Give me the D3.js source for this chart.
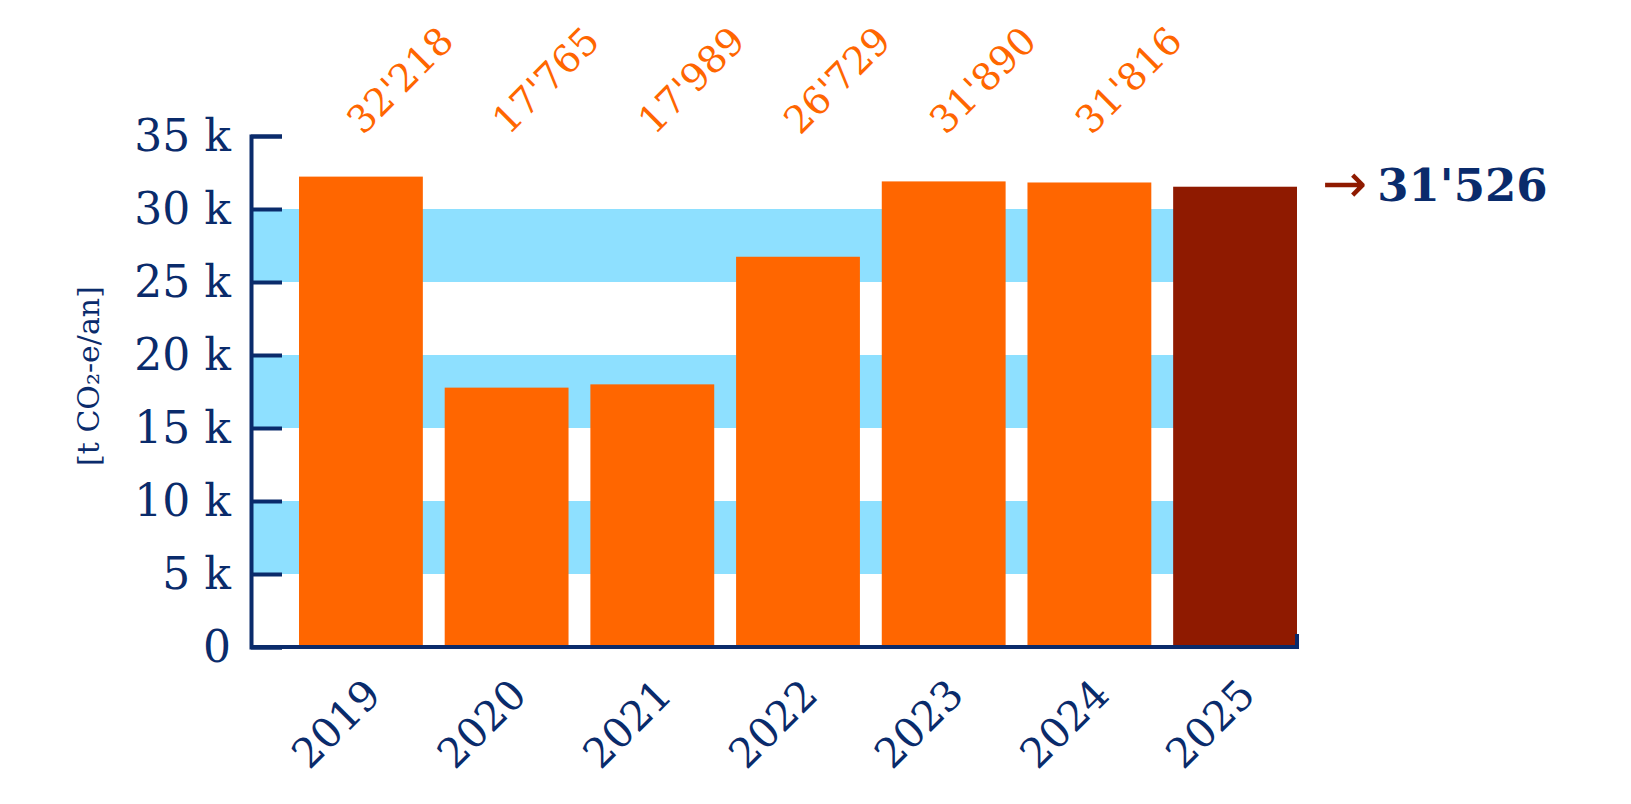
<!DOCTYPE html>
<html>
<head>
<meta charset="utf-8">
<script src="https://cdn.jsdelivr.net/npm/d3@7"></script>
<style>
  html, body { margin: 0; padding: 0; background: #ffffff; }
  svg { display: block; }
</style>
</head>
<body>
<svg id="chart" width="1631" height="804"></svg>
<script>
// ---- data ----
const years = ["2019", "2020", "2021", "2022", "2023", "2024", "2025"];
const emissions = [32218, 17765, 17989, 26729, 31890, 31816, 31526];
const valueLabels = ["32'218", "17'765", "17'989", "26'729", "31'890", "31'816"];
const yTicks = [0, 5000, 10000, 15000, 20000, 25000, 30000, 35000];
const stripes = [[5000, 10000], [15000, 20000], [25000, 30000]];
const highlightLabel = "31'526";
const yTitle = "[t CO\u2082-e/an]";

// ---- styles ----
const NAVY = "#0a2b6b";
const ORANGE = "#ff6600";
const DARKRED = "#8f1a00";
const STRIPE = "#8ee0ff";
const FONT = "'DejaVu Serif', serif";

const svg = d3.select("#chart");

const axisX = 251;
const y = d3.scaleLinear().domain([0, 35000]).range([647, 136]);
const x = d3.scaleBand().domain(years).range([299, 1297]).paddingInner(0.15).paddingOuter(0);

// stripes
svg.append("g").selectAll("rect").data(stripes).join("rect")
  .attr("x", axisX)
  .attr("width", x.range()[1] - axisX)
  .attr("y", d => y(d[1]))
  .attr("height", d => y(d[0]) - y(d[1]))
  .attr("fill", STRIPE);

// bars
svg.append("g").selectAll("rect").data(emissions).join("rect")
  .attr("x", (d, i) => x(years[i]))
  .attr("width", x.bandwidth())
  .attr("y", d => y(d))
  .attr("height", d => y(0) - y(d))
  .attr("fill", (d, i) => i === years.length - 1 ? DARKRED : ORANGE);

// y axis
const yAxis = d3.axisLeft(y)
  .tickValues(yTicks)
  .tickSize(-31)
  .tickPadding(20)
  .tickFormat(d => d === 0 ? "0" : (d / 1000) + " k");
const gy = svg.append("g").attr("transform", `translate(${axisX},0)`).call(yAxis);
gy.select(".domain").attr("stroke", NAVY).attr("stroke-width", 4);
gy.selectAll(".tick line").attr("stroke", NAVY).attr("stroke-width", 4);
gy.selectAll(".tick text")
  .attr("fill", NAVY)
  .style("font-family", FONT)
  .style("font-size", "44px");

// x axis line
svg.append("path")
  .attr("d", `M${axisX},${y(0)}H${x.range()[1]}V${y(0) - 13}`)
  .attr("fill", "none")
  .attr("stroke", NAVY)
  .attr("stroke-width", 4);

// x tick labels
svg.append("g").selectAll("text").data(years).join("text")
  .attr("transform", d => `translate(${x(d) + x.bandwidth() / 2 + 22},${y(0) + 50}) rotate(-45)`)
  .attr("text-anchor", "end")
  .attr("fill", NAVY)
  .style("font-family", FONT)
  .style("font-size", "41px")
  .text(d => d);

// value labels on top
svg.append("g").selectAll("text").data(valueLabels).join("text")
  .attr("transform", (d, i) => `translate(${x(years[i]) + x.bandwidth() / 2 + 2},136) rotate(-45)`)
  .attr("text-anchor", "start")
  .attr("fill", ORANGE)
  .style("font-family", FONT)
  .style("font-size", "38px")
  .text(d => d);

// highlight annotation
const ann = svg.append("text")
  .attr("x", 1322)
  .attr("y", y(emissions[emissions.length - 1]) + 14)
  .style("font-family", FONT)
  .style("font-size", "45px");
ann.append("tspan").attr("fill", DARKRED).style("font-family", "'DejaVu Sans', sans-serif").style("font-size", "54px").attr("dy", 1).text("\u2192");
ann.append("tspan").attr("dx", 10).attr("dy", -1).attr("fill", NAVY).attr("font-weight", "bold").text(highlightLabel);

// y axis title
svg.append("text")
  .attr("transform", "translate(99,376) rotate(-90)")
  .attr("text-anchor", "middle")
  .attr("fill", NAVY)
  .style("font-family", FONT)
  .style("font-size", "30px")
  .text(yTitle);
</script>
</body>
</html>
